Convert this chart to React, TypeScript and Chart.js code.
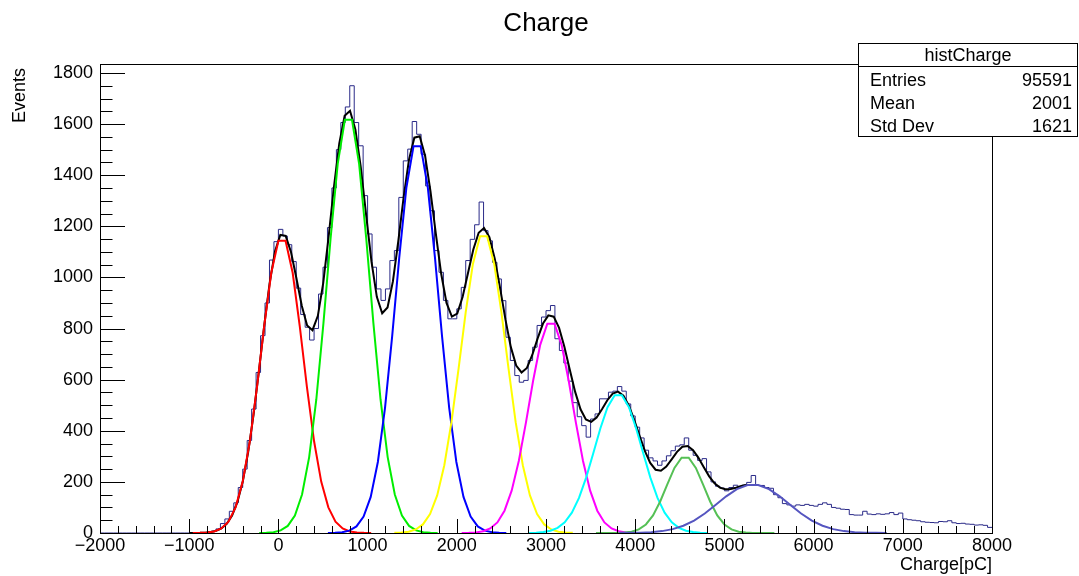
import React, { useEffect, useRef } from 'react';
import { Chart, registerables } from 'chart.js';

Chart.register(...registerables);

// ---------------- data ----------------
const binLow = -2000;
const binWidth = 50;
// histogram counts, 200 bins of 50 pC from -2000 to 8000
const counts: number[] = [
  0, 0, 0, 0, 0, 0, 0, 0, 0, 0,
  0, 0, 0, 0, 0, 0, 0, 0, 0, 0,
  0, 1, 1, 2, 4, 7, 16, 37, 55, 85,
  118, 178, 250, 362, 485, 628, 772, 900, 1068, 1140,
  1188, 1162, 1128, 1062, 958, 855, 805, 755, 800, 935,
  1040, 1195, 1350, 1500, 1606, 1667, 1750, 1606, 1515, 1320,
  1170, 1040, 955, 910, 955, 1066, 1105, 1313, 1456, 1502,
  1610, 1560, 1482, 1358, 1261, 1105, 1020, 910, 838, 838,
  877, 961, 1066, 1149, 1206, 1295, 1183, 1143, 1059, 994,
  909, 766, 675, 616, 590, 597, 675, 727, 812, 845,
  870, 890, 760, 714, 665, 594, 510, 455, 420, 375,
  446, 466, 525, 525, 551, 555, 573, 555, 505, 458,
  414, 372, 324, 294, 282, 265, 282, 302, 322, 340,
  345, 372, 324, 304, 284, 291, 239, 200, 183, 176,
  165, 178, 187, 182, 187, 198, 225, 186, 186, 178,
  175, 150, 138, 115, 110, 105, 110, 108, 112, 108,
  105, 112, 118, 112, 100, 97, 93, 92, 72, 70,
  70, 85, 74, 72, 75, 73, 75, 80, 72, 78,
  55, 52, 50, 48, 44, 42, 41, 40, 45, 44,
  48, 40, 37, 38, 35, 34, 31, 32, 30, 22,
];

// Gaussian fit components (amplitude, mean, sigma, drawn range)
const fitAmps = [1160, 1640, 1535, 1175, 830, 545, 300, 190];
const fitMeans = [40, 785, 1555, 2300, 3055, 3810, 4560, 5320];
const fitSigmas = [235, 238, 238, 255, 245, 265, 210, 400];
const fitLo = [-960, -215, 555, 1300, 2055, 2810, 3560, 3820];
const fitHi = [1040, 1785, 2555, 3300, 4055, 4810, 5560, 6820];
const fitColors = ['#ff0000', '#00ee00', '#0000ff', '#ffff00', '#ff00ff', '#00ffff', '#55c055', '#5555c0'];
const sumRange = [-1000, 5250];

const xTickValues = [-2000, -1000, 0, 1000, 2000, 3000, 4000, 5000, 6000, 7000, 8000];
const xTickLabels = ['\u22122000', '\u22121000', '0', '1000', '2000', '3000', '4000', '5000', '6000', '7000', '8000'];
const yTickValues = [0, 200, 400, 600, 800, 1000, 1200, 1400, 1600, 1800];
const yTickLabels = ['0', '200', '400', '600', '800', '1000', '1200', '1400', '1600', '1800'];

const titleText = 'Charge';
const xTitle = 'Charge[pC]';
const yTitle = 'Events';
const statsName = 'histCharge';
const statLabels = ['Entries', 'Mean', 'Std Dev'];
const statValues = ['95591', '2001', '1621'];

const FONT = '"Liberation Sans", Arial, Helvetica, sans-serif';

function gauss(k: number, x: number) {
  const d = (x - fitMeans[k]) / fitSigmas[k];
  return fitAmps[k] * Math.exp(-0.5 * d * d);
}

function componentPoints(k: number) {
  const pts: { x: number; y: number }[] = [];
  const n = 25;
  for (let i = 0; i <= n; i++) {
    const x = fitLo[k] + ((fitHi[k] - fitLo[k]) * i) / n;
    pts.push({ x, y: gauss(k, x) });
  }
  return pts;
}

function sumPoints() {
  const pts: { x: number; y: number }[] = [];
  const n = 104;
  for (let i = 0; i <= n; i++) {
    const x = sumRange[0] + ((sumRange[1] - sumRange[0]) * i) / n;
    let y = 0;
    for (let k = 0; k < fitAmps.length; k++) y += gauss(k, x);
    pts.push({ x, y });
  }
  return pts;
}

const decorPlugin = {
  id: 'rootDecor',
  afterDraw(chart: any) {
    const { ctx, chartArea: a, scales } = chart;
    const xs = scales.x;
    const ys = scales.y;
    ctx.save();
    ctx.strokeStyle = '#000';
    ctx.lineWidth = 1;
    // frame
    ctx.strokeRect(Math.round(a.left) + 0.5, Math.round(a.top) + 0.5, Math.round(a.right - a.left), Math.round(a.bottom - a.top));
    // x ticks (inward)
    ctx.beginPath();
    for (let v = xs.min; v <= xs.max + 1e-6; v += 200) {
      const px = Math.round(xs.getPixelForValue(v)) + 0.5;
      const len = Math.abs(v % 1000) < 1e-6 ? 14 : 7;
      ctx.moveTo(px, a.bottom);
      ctx.lineTo(px, a.bottom - len);
    }
    // y ticks (inward)
    for (let v = 0; v <= ys.max + 1e-6; v += 50) {
      const py = Math.round(ys.getPixelForValue(v)) + 0.5;
      const len = v % 200 === 0 ? 25 : 12.5;
      ctx.moveTo(a.left, py);
      ctx.lineTo(a.left + len, py);
    }
    ctx.stroke();

    ctx.fillStyle = '#000';
    // title
    ctx.font = `26px ${FONT}`;
    ctx.textAlign = 'center';
    ctx.textBaseline = 'alphabetic';
    ctx.fillText(titleText, 546, 31);
    // x title
    ctx.font = `18px ${FONT}`;
    ctx.textAlign = 'right';
    ctx.fillText(xTitle, a.right, 570);
    // y title
    ctx.save();
    ctx.translate(25, 68);
    ctx.rotate(-Math.PI / 2);
    ctx.textAlign = 'right';
    ctx.fillText(yTitle, 0, 0);
    ctx.restore();

    // stats box
    const bx = 858.5, by = 43.5, bw = 219, bh = 93;
    ctx.fillStyle = '#fff';
    ctx.fillRect(bx, by, bw, bh);
    ctx.strokeRect(bx, by, bw, bh);
    ctx.beginPath();
    ctx.moveTo(bx, 66.5);
    ctx.lineTo(bx + bw, 66.5);
    ctx.stroke();
    ctx.fillStyle = '#000';
    ctx.font = `18px ${FONT}`;
    ctx.textAlign = 'center';
    ctx.fillText(statsName, 968, 61);
    const rowsY = [86, 109, 132];
    for (let i = 0; i < statLabels.length; i++) {
      ctx.textAlign = 'left';
      ctx.fillText(statLabels[i], 870, rowsY[i]);
      ctx.textAlign = 'right';
      ctx.fillText(statValues[i], 1072, rowsY[i]);
    }
    ctx.restore();
  },
};

export default function App() {
  const ref = useRef<HTMLCanvasElement | null>(null);
  useEffect(() => {
    document.body.style.margin = '0';
    const canvas = ref.current;
    if (!canvas) return;

    const histPts = counts.map((c, i) => ({ x: binLow + i * binWidth, y: c }));
    histPts.push({ x: binLow + counts.length * binWidth, y: counts[counts.length - 1] });

    const datasets: any[] = [
      {
        label: 'histCharge',
        data: histPts,
        borderColor: '#2a2a88',
        borderWidth: 1,
        stepped: 'before',
        pointRadius: 0,
        fill: false,
        order: 20,
      },
      {
        label: 'total',
        data: sumPoints(),
        borderColor: '#000000',
        borderWidth: 2,
        pointRadius: 0,
        tension: 0,
        fill: false,
        order: 15,
      },
    ];
    for (let k = 0; k < fitAmps.length; k++) {
      datasets.push({
        label: 'g' + k,
        data: componentPoints(k),
        borderColor: fitColors[k],
        borderWidth: 2,
        pointRadius: 0,
        tension: 0,
        fill: false,
        order: 10 - k,
      });
    }

    const chart = new Chart(canvas, {
      type: 'line',
      data: { datasets },
      options: {
        responsive: false,
        animation: false,
        devicePixelRatio: 1,
        layout: { padding: { top: 64, right: 87, left: 0, bottom: 0 } },
        plugins: {
          legend: { display: false },
          tooltip: { enabled: false },
          title: { display: false },
        },
        scales: {
          x: {
            type: 'linear',
            min: -2000,
            max: 8000,
            grid: { display: false, drawTicks: false },
            border: { display: false },
            ticks: {
              color: '#000',
              font: { family: FONT, size: 18 },
              padding: 2,
              maxRotation: 0,
              autoSkip: false,
              callback: (v: any) => {
                const i = xTickValues.indexOf(Number(v));
                return i >= 0 ? xTickLabels[i] : '';
              },
            },
            afterBuildTicks: (s: any) => {
              s.ticks = xTickValues.map((v) => ({ value: v }));
            },
            afterFit: (s: any) => {
              s.height = 43;
            },
          },
          y: {
            type: 'linear',
            min: 0,
            max: 1835,
            grid: { display: false, drawTicks: false },
            border: { display: false },
            ticks: {
              color: '#000',
              font: { family: FONT, size: 18 },
              padding: 7,
              autoSkip: false,
              callback: (v: any) => {
                const i = yTickValues.indexOf(Number(v));
                return i >= 0 ? yTickLabels[i] : '';
              },
            },
            afterBuildTicks: (s: any) => {
              s.ticks = yTickValues.map((v) => ({ value: v }));
            },
            afterFit: (s: any) => {
              s.width = 100;
            },
          },
        },
      } as any,
      plugins: [decorPlugin],
    });
    return () => chart.destroy();
  }, []);

  return (
    <canvas
      ref={ref}
      width={1079}
      height={576}
      style={{ display: 'block', width: '1079px', height: '576px', background: '#fff' }}
    />
  );
}
